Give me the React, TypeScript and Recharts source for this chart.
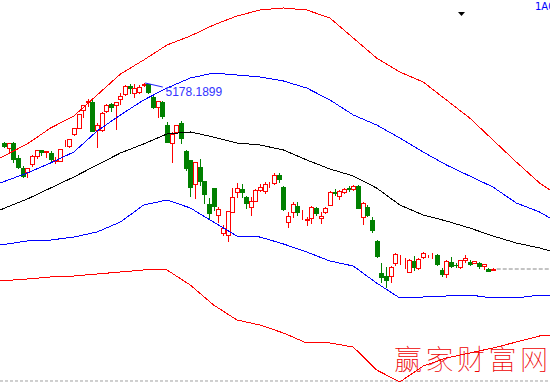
import React from 'react';
import { ComposedChart, Bar, Line, XAxis, YAxis, ReferenceLine, ReferenceDot } from 'recharts';

// Daily candles (index price)
const opens = [4493,4436,4493,4322,4208,4162,4253,4344,4413,4390,4379,4293,4287,4453,4459,4596,4664,4870,4961,4961,4641,4641,4858,4938,4927,4995,5053,5144,5064,5075,5161,5172,5018,4904,4961,4699,4493,4619,4721,4402,4299,4025,4219,4059,3796,3979,3671,3465,3442,3705,3933,3968,3876,3762,3831,3956,3945,4025,4036,4128,3990,3591,3705,3773,3665,3619,3636,3751,3636,3705,3785,3928,3888,3933,3979,3968,4002,3648,3762,3614,3374,3008,2974,2974,3123,3197,3163,3020,3145,3065,3191,3203,3203,3214,3043,2997,3134,3100,3077,3157,3134,3128,3123,3088,3054,3048];
const highs = [4504,4493,4504,4356,4230,4208,4356,4413,4413,4396,4402,4333,4424,4527,4539,4664,4824,4927,4995,4995,4721,4847,4938,4950,4961,5064,5155,5167,5167,5155,5178.19,5172,5030,4973,4973,4733,4619,4699,4744,4413,4299,4276,4310,4059,3865,3979,3762,3557,3716,3979,4036,4025,3888,3876,3968,4025,4048,4048,4150,4150,4002,3705,3819,3819,3728,3648,3773,3762,3705,3762,3945,3968,3956,3979,4002,4013,4013,3819,3785,3648,3385,3123,3077,3089,3237,3214,3180,3168,3203,3180,3248,3214,3237,3225,3065,3157,3191,3123,3157,3214,3157,3145,3134,3111,3060,3065];
const lows = [4447,4390,4276,4208,4105,4105,4230,4322,4356,4333,4287,4265,4287,4453,4447,4584,4664,4790,4915,4630,4447,4630,4847,4858,4653,4938,5041,5064,5018,5064,5144,5064,4893,4790,4778,4504,4276,4607,4493,4185,3888,3865,4013,3808,3636,3728,3591,3442,3374,3705,3876,3876,3751,3671,3831,3945,3922,3990,4025,4048,3728,3534,3648,3671,3625,3557,3579,3671,3579,3694,3785,3899,3853,3922,3945,3956,3751,3568,3659,3477,3191,2906,2849,2906,3100,3111,3065,3020,3043,3054,3180,3191,3185,3100,2974,2963,3077,3077,3065,3134,3100,3123,3065,3054,3026,3043];
const closes = [4459,4493,4310,4219,4116,4208,4344,4413,4390,4396,4310,4299,4424,4459,4539,4664,4824,4927,4967,4630,4699,4836,4927,4904,4961,5030,5144,5121,5121,5132,5167,5075,4904,4967,4801,4504,4596,4699,4550,4208,3990,4276,4059,3911,3694,3773,3739,3522,3716,3876,3979,3933,3808,3831,3956,3990,4025,4030,4128,4082,3739,3659,3796,3705,3671,3625,3762,3694,3659,3751,3933,3922,3945,3968,3973,4002,3751,3808,3671,3500,3202,2963,2929,3077,3225,3203,3168,3157,3077,3168,3237,3208,3208,3111,2997,3145,3088,3094,3157,3180,3111,3145,3088,3111,3031,3054];

// Band lines (sampled at candle index positions)
const bandIdx = [-0.86,5,10,15,20,25,30,35,40,45,50,55,60,65,70,75,80,85,90,95,100,105,110,115,117.24];
const upperRed = [4322,4482,4664,4801,5041,5281,5441,5612,5715,5840,5943,6012,6035,6012,5920,5692,5464,5304,5190,4984,4778,4527,4276,4036,3956];
const upperBlue = [4036,4150,4265,4390,4630,4813,4984,5121,5235,5292,5270,5247,5201,5121,4984,4813,4699,4550,4390,4242,4116,3990,3808,3705,3636];
const middle = [3728,3853,3979,4105,4242,4379,4482,4596,4619,4561,4493,4470,4413,4299,4196,4116,3979,3785,3671,3602,3522,3431,3351,3294,3260];
const lowerBlue = [3328,3374,3385,3419,3477,3591,3785,3842,3751,3591,3431,3419,3340,3248,3145,3088,2894,2723,2734,2746,2757,2723,2723,2757,2757];
const lowerRed = [2917,2940,2963,2974,2997,3020,3043,3043,2871,2643,2472,2414,2323,2209,2209,2163,1901,1764,1946,2038,2095,2152,2220,2289,2300];

const peakLabel = '5178.1899';
const peakValue = 5178.19;
const peakIndex = 30;
const bottomLineValue = 1775;

const candles = opens.map((o, i) => ({ i, o, h: highs[i], l: lows[i], c: closes[i] }));
const bands = bandIdx.map((i, k) => ({
  i,
  ru: upperRed[k],
  bu: upperBlue[k],
  m: middle[k],
  bl: lowerBlue[k],
  rl: lowerRed[k],
}));
const lastIndex = candles.length - 1;
const lastClose = closes[lastIndex];

const RED = '#ff0000';
const GREEN = '#008000';

const Candle = (props: any) => {
  const { x, y, width, height, payload } = props;
  if (!payload) return null;
  const { o, h, l, c } = payload;
  const top = Math.min(y, y + height);
  const bottom = Math.max(y, y + height);
  const span = h - l || 1;
  const yOf = (v: number) => top + ((h - v) / span) * (bottom - top);
  const cx = Math.round(x + width / 2);
  const up = c >= o;
  const color = up ? RED : GREEN;
  const bTop = Math.round(yOf(Math.max(o, c)));
  const bBot = Math.round(yOf(Math.min(o, c)));
  const wx = cx + 0.5;
  return (
    <g shapeRendering="crispEdges">
      <line x1={wx} x2={wx} y1={Math.round(top)} y2={Math.round(bottom) + 1} stroke={color} strokeWidth={1} />
      {up ? (
        <rect x={cx - 1.5} y={bTop + 0.5} width={4} height={Math.max(0, bBot - bTop)} fill="#ffffff" stroke={color} strokeWidth={1} />
      ) : (
        <rect x={cx - 2} y={bTop} width={5} height={Math.max(1, bBot - bTop + 1)} fill={color} />
      )}
    </g>
  );
};

const lineProps = {
  type: 'linear' as const,
  strokeWidth: 1,
  dot: false,
  activeDot: false,
  isAnimationActive: false,
  shapeRendering: 'crispEdges',
};

export default function App() {
  return (
    <div style={{ position: 'absolute', left: 0, top: 0, width: 550, height: 384, background: '#ffffff', overflow: 'hidden' }}>
      <ComposedChart width={550} height={384} data={candles} margin={{ top: 0, right: 0, bottom: 0, left: 0 }}>
        <XAxis dataKey="i" type="number" domain={[-0.86, 117.24]} hide allowDataOverflow />
        <YAxis type="number" domain={[6126 - 11.42 * 384, 6126]} hide allowDataOverflow />
        <ReferenceLine y={bottomLineValue} stroke="#a0a0a0" strokeDasharray="3 2" />
        <Line {...lineProps} data={bands} dataKey="ru" stroke={RED} />
        <Line {...lineProps} data={bands} dataKey="bu" stroke="#0000ff" />
        <Line {...lineProps} data={bands} dataKey="m" stroke="#000000" />
        <Line {...lineProps} data={bands} dataKey="bl" stroke="#0000ff" />
        <Line {...lineProps} data={bands} dataKey="rl" stroke={RED} />
        <Bar dataKey={(d: any) => [d.l, d.h]} barSize={4} shape={Candle} isAnimationActive={false} />
        <ReferenceLine
          segment={[{ x: lastIndex + 0.8, y: lastClose }, { x: 117.24, y: lastClose }]}
          stroke="#888888"
          strokeDasharray="4 2"
        />
        <ReferenceLine
          segment={[{ x: peakIndex + 0.3, y: peakValue }, { x: peakIndex + 4.1, y: 5132 }]}
          stroke="#2020ff"
        />
        <ReferenceDot
          x={peakIndex + 3.6}
          y={5075}
          r={0.01}
          fill="none"
          stroke="none"
          label={{ value: peakLabel, position: 'right', fill: '#3333ff', fontSize: 12, fontFamily: 'Liberation Sans, Arial, sans-serif' }}
        />
      </ComposedChart>
      <svg width={550} height={384} style={{ position: 'absolute', left: 0, top: 0, pointerEvents: 'none' }}>
        <text x={535} y={10} fill="#0000ff" fontSize={10} fontFamily="DejaVu Sans, sans-serif">1A0</text>
        <polygon points="458,12 465,12 461.5,16" fill="#000000" />
        <text x={394} y={370} fill="#ee0000" fontSize={28} fontWeight={100} letterSpacing={3.5} fontFamily="Noto Sans CJK SC Thin, Noto Sans CJK SC Light, Noto Sans CJK SC">赢家财富网</text>
      </svg>
    </div>
  );
}
